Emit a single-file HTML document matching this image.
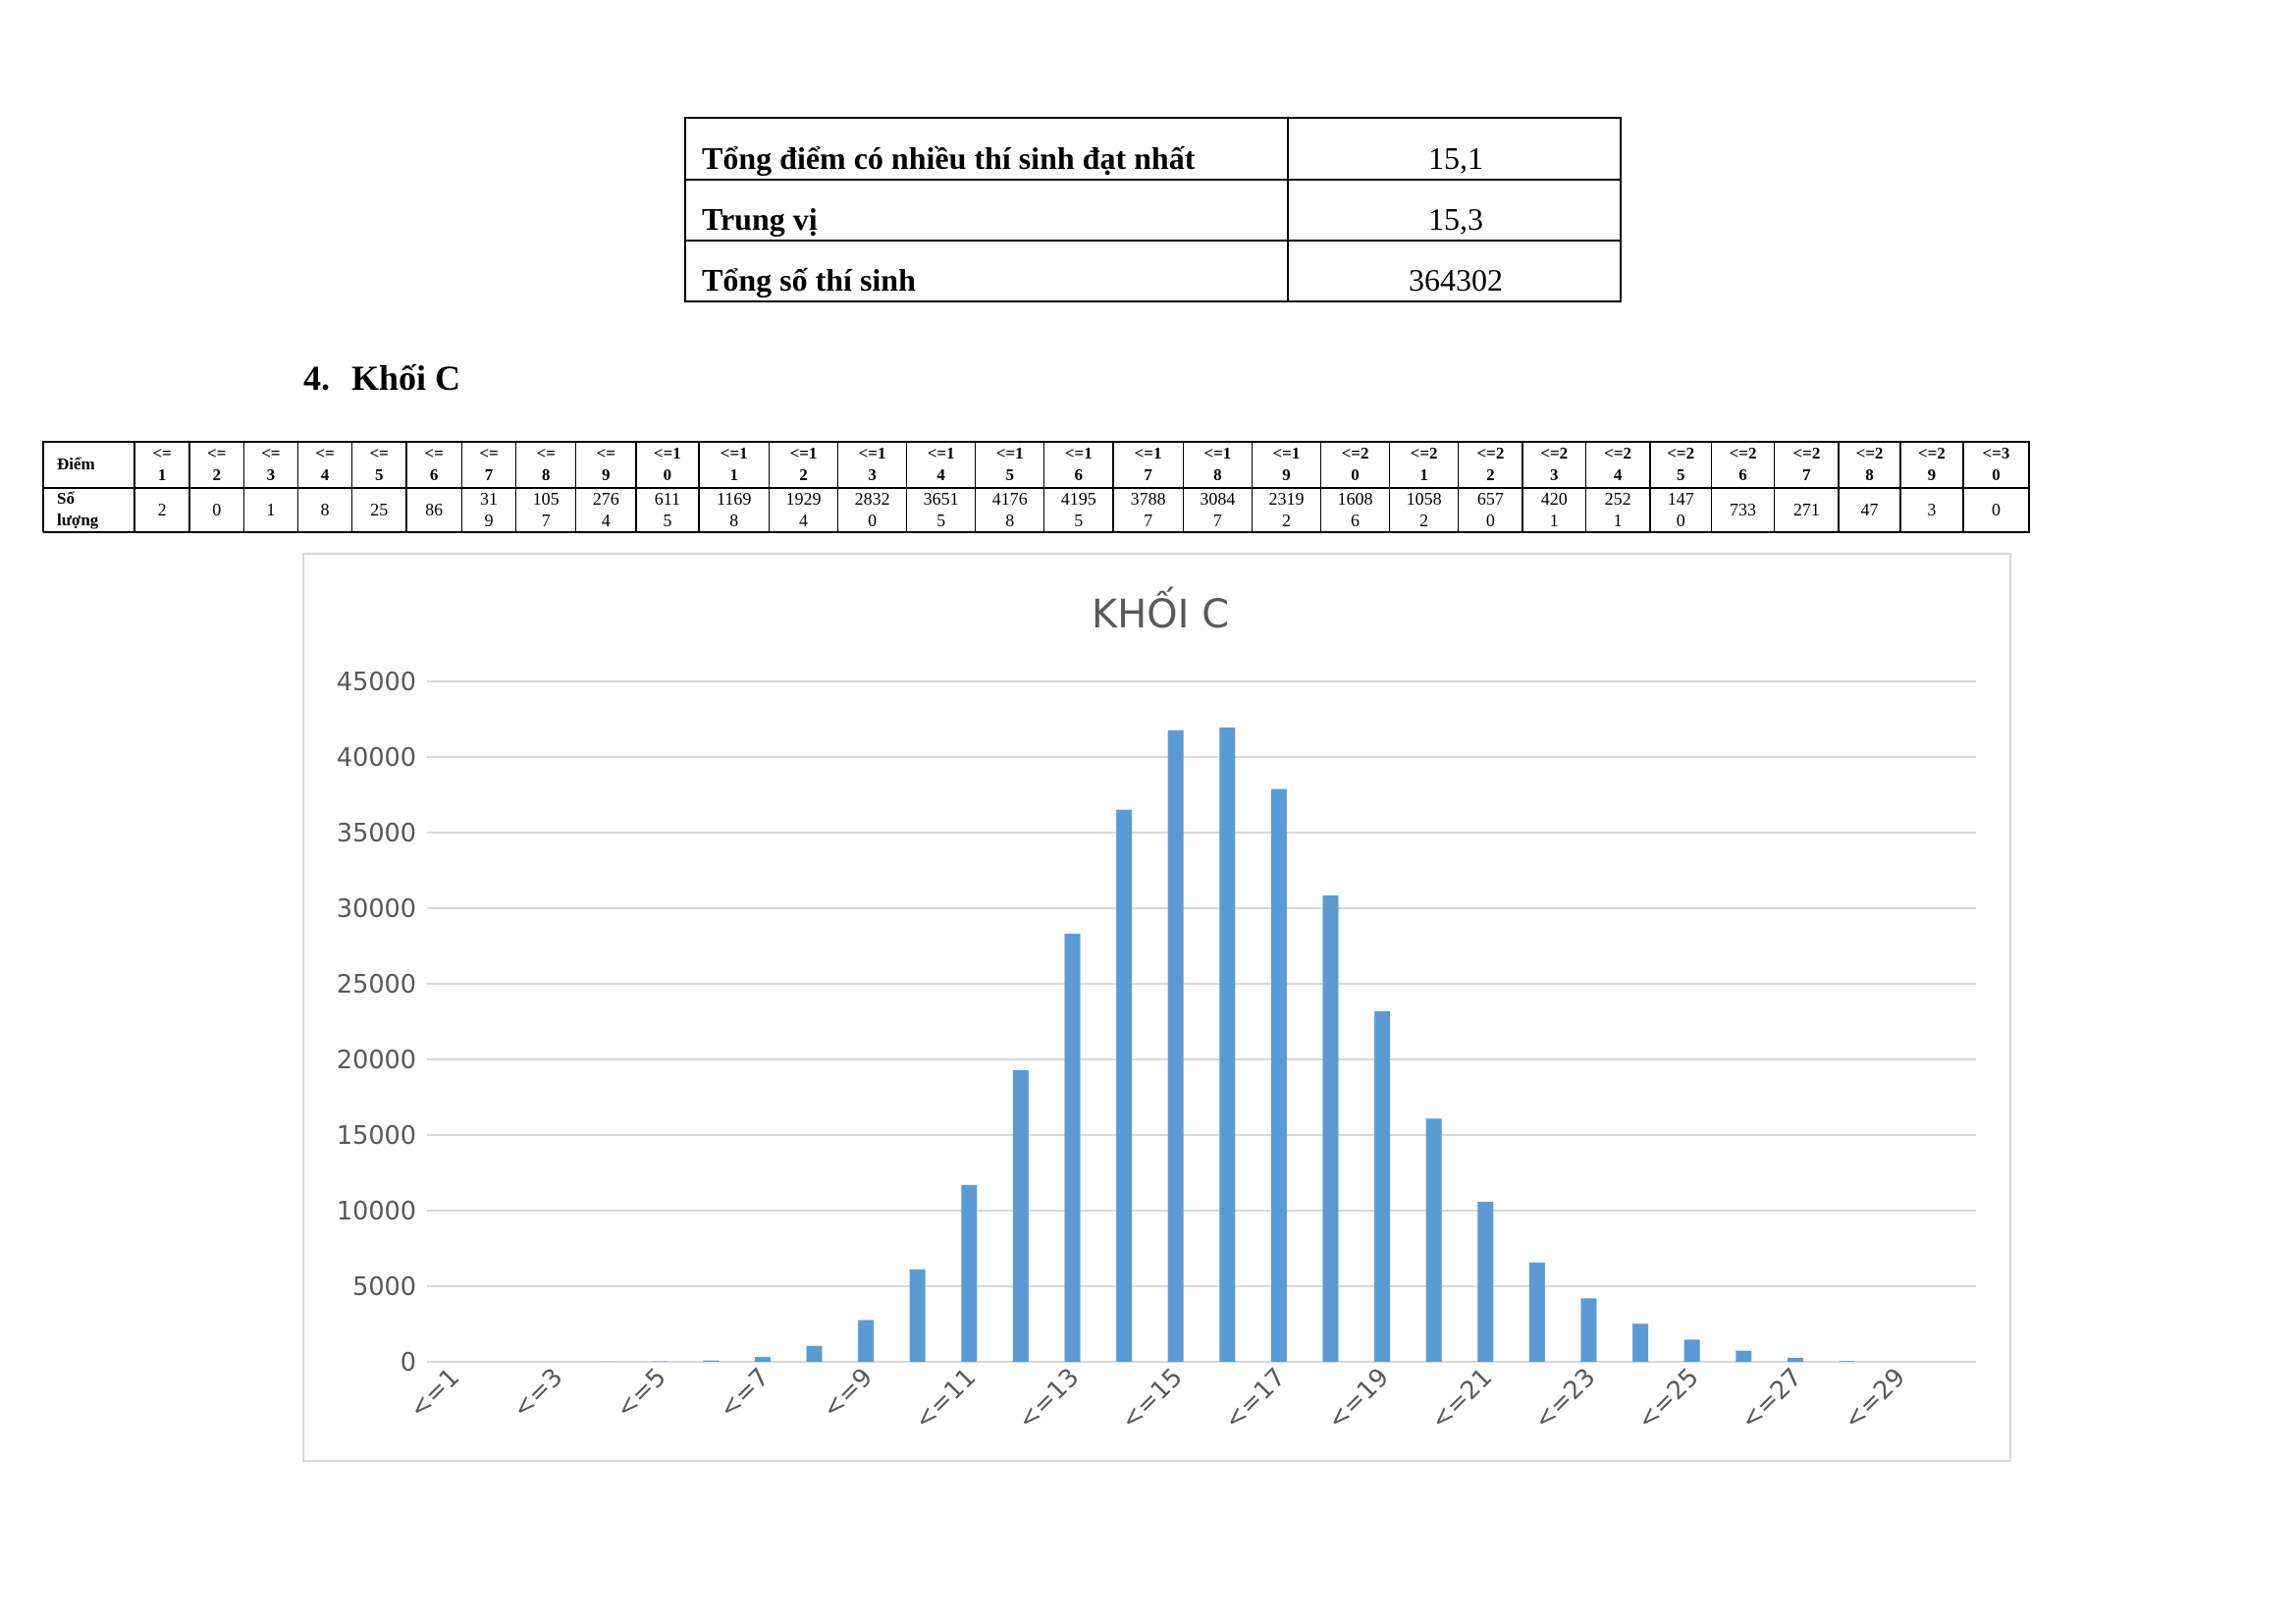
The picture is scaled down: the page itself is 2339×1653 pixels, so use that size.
<!DOCTYPE html>
<html><head><meta charset="utf-8">
<style>
html,body{margin:0;padding:0;background:#fff;}
body{width:2339px;height:1653px;position:relative;overflow:hidden;font-family:"Liberation Serif",serif;color:#000;}
.c{position:absolute;box-sizing:border-box;display:flex;align-items:center;justify-content:center;text-align:center;}
</style></head>
<body>
<div style="position:absolute;left:697px;top:119px;width:955px;height:189px;border:2px solid #000;box-sizing:border-box;">
 <div style="position:absolute;left:612px;top:0;width:1.5px;height:100%;background:#000"></div>
 <div style="position:absolute;left:0;top:61px;width:100%;height:1.5px;background:#000"></div>
 <div style="position:absolute;left:0;top:123px;width:100%;height:1.5px;background:#000"></div>
 <div style="position:absolute;left:16px;top:22px;font-weight:bold;font-size:32px;">Tổng điểm có nhiều thí sinh đạt nhất</div>
 <div style="position:absolute;left:614px;width:340px;text-align:center;top:22px;font-size:32px;">15,1</div>
 <div style="position:absolute;left:16px;top:84px;font-weight:bold;font-size:32px;">Trung vị</div>
 <div style="position:absolute;left:614px;width:340px;text-align:center;top:84px;font-size:32px;">15,3</div>
 <div style="position:absolute;left:16px;top:146px;font-weight:bold;font-size:32px;">Tổng số thí sinh</div>
 <div style="position:absolute;left:614px;width:340px;text-align:center;top:146px;font-size:32px;">364302</div>
</div>
<div style="position:absolute;left:309px;top:364px;font-weight:bold;font-size:36px;"><span>4.</span><span style="margin-left:22px">Khối C</span></div>

<div id="dt" style="position:absolute;left:0;top:0;"></div>

<svg id="chart" width="2339" height="1653" style="position:absolute;left:0;top:0" xmlns="http://www.w3.org/2000/svg"></svg>

<script>
const categories=["<=1","<=2","<=3","<=4","<=5","<=6","<=7","<=8","<=9","<=10","<=11","<=12","<=13","<=14","<=15","<=16","<=17","<=18","<=19","<=20","<=21","<=22","<=23","<=24","<=25","<=26","<=27","<=28","<=29","<=30"];
const counts=[2,0,1,8,25,86,319,1057,2764,6115,11698,19294,28320,36515,41768,41955,37887,30847,23192,16086,10582,6570,4201,2521,1470,733,271,47,3,0];
const yTicks=[0,5000,10000,15000,20000,25000,30000,35000,40000,45000];
const NS="http://www.w3.org/2000/svg";

// data table
const rawEdges=[44,137,193.5,249,304.5,360,415.5,472.5,528,589.5,651,715.5,787.5,858,928.5,999,1069.5,1140,1212,1282.5,1353,1423.5,1494,1560,1624.5,1690.5,1753.5,1818,1884,1947,2011.5,2079];
const colEdges=rawEdges.map((x,i)=>i<2?x:137+(x-137)*(2067-137)/(2079-137));
const T=449,M=496,B=542;
const dt=document.getElementById('dt');
function box(x,y,w,h,html,fs,bold){const d=document.createElement('div');d.className='c';d.style.left=x+'px';d.style.top=y+'px';d.style.width=w+'px';d.style.height=h+'px';d.style.fontSize=fs+'px';d.style.lineHeight='22px';if(bold)d.style.fontWeight='bold';d.innerHTML=html;dt.appendChild(d);return d;}
function line(x,y,w,h){const d=document.createElement('div');d.style.cssText='position:absolute;background:#000;left:'+x+'px;top:'+y+'px;width:'+w+'px;height:'+h+'px';dt.appendChild(d);}
line(44,T,2024,2);line(44,M,2024,1.5);line(44,B-1,2024,2);
colEdges.forEach(x=>line(x-0.75,T,1.5,B-T));
let h0=box(44,T,93,M-T,'Điểm',17,true);h0.style.justifyContent='flex-start';h0.style.paddingLeft='14px';
let h1=box(44,M,93,B-M,'Số<br>lượng',17,true);h1.style.justifyContent='flex-start';h1.style.paddingLeft='14px';h1.style.textAlign='left';
categories.forEach((c,i)=>{
 const x=colEdges[i+1],w=colEdges[i+2]-x;
 const n=c.slice(2);
 const hd=box(x,T,w,M-T,(n.length>1?'&lt;='+n[0]+'<br>'+n[1]:'&lt;=<br>'+n),17,true);
 
 
 const s=String(counts[i]);
 let html=s;
 if(i===6)html=s.slice(0,2)+'<br>'+s.slice(2);
 else if(s.length===4&&(i<=9||(i>=21&&i<=24)))html=s.slice(0,3)+'<br>'+s.slice(3);
 else if(s.length===5)html=s.slice(0,4)+'<br>'+s.slice(4);
 const vc=box(x,M,w,B-M,html,18,false);
 
 
});

// chart
const svg=document.getElementById('chart');
function el(t,a){const e=document.createElementNS(NS,t);for(const k in a)e.setAttribute(k,a[k]);svg.appendChild(e);return e;}
const L=435,R=2013,Y0=1387,Ytop=694,ymax=45000;
const cw=(R-L)/categories.length;
const xs=i=>L+cw*(i+0.5);
const ys=v=>Y0-(v/ymax)*(Y0-Ytop);
const fr=el('rect',{x:309,y:564,width:1739,height:924,fill:'#fff',stroke:'#d9d9d9','stroke-width':2});


const tt=el('text',{x:1182,y:639,'text-anchor':'middle','font-family':'DejaVu Sans, Liberation Sans, sans-serif','font-size':40,fill:'#595959'});
tt.textContent='KHỐI C';


yTicks.forEach(v=>{
 const g=el('line',{x1:L,x2:R,y1:ys(v),y2:ys(v),stroke:'#d9d9d9','stroke-width':2});
 
 
 const t=el('text',{x:L-11,y:ys(v)+9,'text-anchor':'end','font-family':'DejaVu Sans, sans-serif','font-size':25.5,fill:'#595959'});
 t.textContent=v;
 
 
});
counts.forEach((v,i)=>{
 const b=el('rect',{x:xs(i)-8,y:ys(v),width:16,height:Y0-ys(v),fill:'#5b9bd5'});
 
 
});
categories.forEach((c,i)=>{
 if(i%2)return;
 const x=xs(i)+8,y=1404;
 const t=el('text',{x:x,y:y,'text-anchor':'end','font-family':'DejaVu Sans, sans-serif','font-size':25.5,fill:'#595959',transform:'rotate(-45 '+x+' '+y+')'});
 t.textContent=c;
 
 
});
</script>
</body></html>
